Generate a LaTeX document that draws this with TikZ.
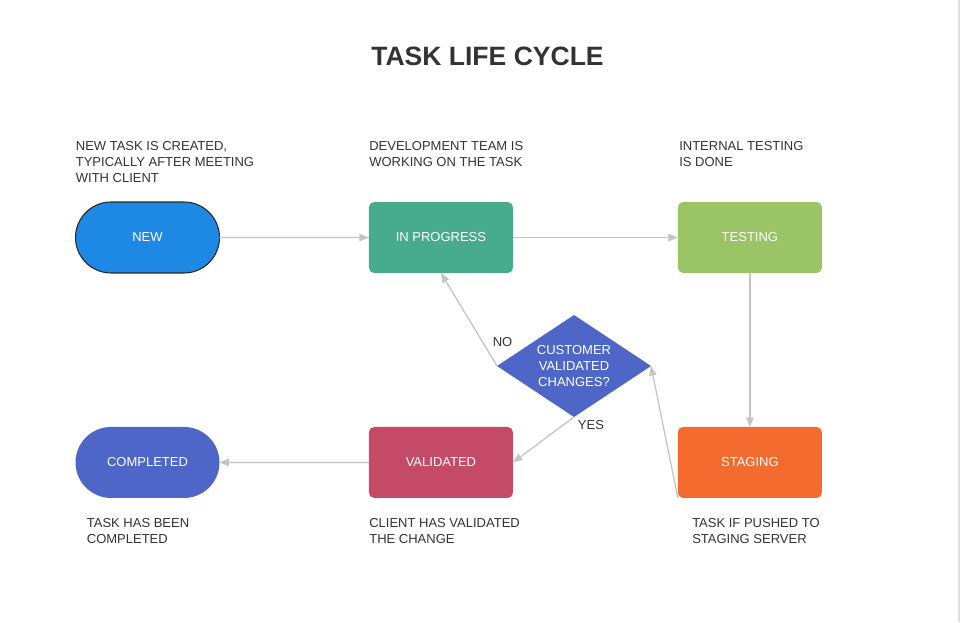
\documentclass[tikz,border=0pt]{standalone}
\usepackage{fontspec}
\setmainfont{Liberation Sans}
\usepackage{xcolor}
\usepackage{tikz}
\usetikzlibrary{positioning, arrows.meta, shapes.geometric, shapes.misc, calc}

\definecolor{newblue}{HTML}{1E88E5}
\definecolor{progteal}{HTML}{46AC8C}
\definecolor{testgreen}{HTML}{9AC465}
\definecolor{stageorange}{HTML}{F46B30}
\definecolor{validred}{HTML}{C44A68}
\definecolor{doneblue}{HTML}{4D66C8}
\definecolor{notegray}{HTML}{333333}
\definecolor{linegray}{HTML}{C4C4C4}

\newcommand{\notefont}{\fontsize{7.4}{9.07}\selectfont}
\newcommand{\titlefont}{\fontsize{15.1}{17}\selectfont\bfseries}

\begin{document}
\begin{tikzpicture}[
    x=0.02cm, y=-0.02cm,
    node distance=3.08cm and 3cm,
    stagebox/.style={rectangle, rounded corners=3pt, minimum width=2.88cm, minimum height=1.42cm, inner sep=0pt, outer sep=0pt, text=white, font=\notefont},
    endbox/.style={rounded rectangle, minimum width=2.88cm, minimum height=1.42cm, inner sep=0pt, outer sep=0pt, text=white, font=\notefont},
    decide/.style={diamond, aspect=1.51, fill=doneblue, minimum width=3.08cm, minimum height=2.04cm, inner sep=0pt, outer sep=0pt, align=center, text=white, font=\notefont},
    note/.style={anchor=north west, inner sep=0pt, align=left, text=notegray, font=\notefont},
    lbl/.style={inner sep=0pt, text=notegray, font=\notefont},
    arrow/.style={-{Triangle[length=0.19cm, width=0.15cm]}, line width=0.7pt, color=linegray}
]

% Page
\fill[white] (0,0) rectangle (960,622);
\fill[black!13] (957.5,0) rectangle (960,622);
\useasboundingbox (0,0) rectangle (960,622);

\node[font=\titlefont, text=notegray] (title) at (487.5,56) {TASK LIFE CYCLE};

% Nodes
\node[endbox, fill=newblue, draw=black!85, line width=0.6pt] (new) at (147.5,237.5) {NEW};

\node[stagebox, fill=progteal, right=2.99cm of new] (inprog) {IN PROGRESS};

\node[stagebox, fill=testgreen, right=3.3cm of inprog] (testing) {TESTING};

\node[stagebox, fill=stageorange, below=of testing] (staging) {STAGING};

\node[stagebox, fill=validred, below=of inprog] (validated) {VALIDATED};

\node[endbox, fill=doneblue, below=of new] (completed) {COMPLETED};

\node[decide] (decision) at (574,366) {CUSTOMER\\VALIDATED\\CHANGES?};

% Arrows
\draw[arrow] (new) -- (inprog);
\draw[arrow] (inprog) -- (testing);
\draw[arrow] (testing) -- (staging);
\draw[arrow] (staging.south west) -- (decision.east);
\draw[arrow] (decision.south) -- (validated.east);
\draw[arrow] (decision.west) -- (inprog.south);
\draw[arrow] (validated) -- (completed);

\node[lbl] (yes) at ([xshift=0.34cm, yshift=-0.17cm]decision.south) {YES};
\node[lbl] (no) at ([xshift=0.11cm, yshift=0.48cm]decision.west) {NO};

% Annotations
\node[note] (newnote) at ([yshift=1.93cm]new.west) {NEW TASK IS CREATED,\\TYPICALLY AFTER MEETING\\WITH CLIENT};
\node[note] (prognote) at ([yshift=1.21cm]inprog.north west) {DEVELOPMENT TEAM IS\\WORKING ON THE TASK};
\node[note] (testnote) at ([xshift=0.02cm, yshift=1.21cm]testing.north west) {INTERNAL TESTING\\IS DONE};
\node[note] (donenote) at ([xshift=0.22cm, yshift=-1.11cm]completed.west) {TASK HAS BEEN\\COMPLETED};
\node[note] (validnote) at ([yshift=-0.41cm]validated.south west) {CLIENT HAS VALIDATED\\THE CHANGE};
\node[note] (stagenote) at ([xshift=0.28cm, yshift=-0.41cm]staging.south west) {TASK IF PUSHED TO\\STAGING SERVER};

\end{tikzpicture}
\end{document}
